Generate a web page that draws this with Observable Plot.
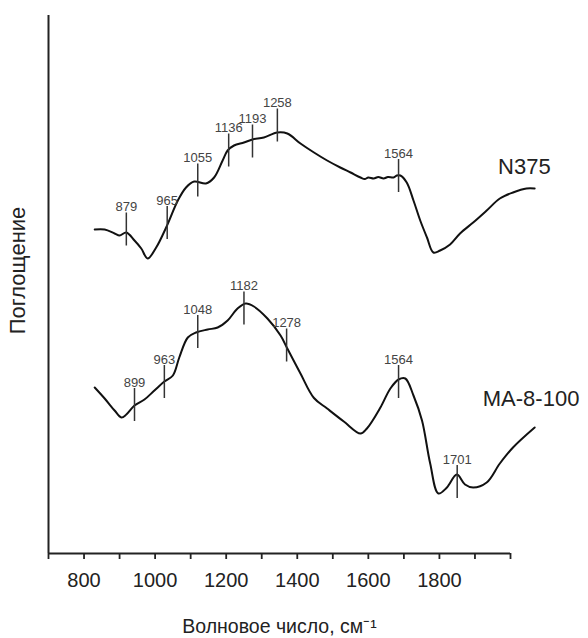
<!DOCTYPE html>
<html><head><meta charset="utf-8">
<script src="https://cdn.jsdelivr.net/npm/d3@7"></script>
<script src="https://cdn.jsdelivr.net/npm/@observablehq/plot@0.6"></script>
<style>body{margin:0;background:#fff}#chart svg{font-family:"Liberation Sans",Arial,sans-serif}</style>
</head><body><div id="chart"></div>
<script>
// Spectrum N375 (x read against the drawn axis, y in arbitrary absorbance units)
const n375X = [830,858,886,900,919,942,961,979,1003,1031,1064,1087,1110,1143,1166,1190,1204,1222,1250,1274,1306,1344,1372,1409,1447,1484,1521,1550,1578,1590,1600,1615,1628,1643,1655,1671,1680,1690,1708,1727,1746,1765,1783,1802,1830,1858,1895,1933,1970,2007,2045,2068];
const n375Y = [3.24,3.24,3.20,3.18,3.21,3.13,3.05,2.95,3.06,3.26,3.53,3.66,3.72,3.70,3.76,3.93,4.03,4.08,4.11,4.14,4.16,4.21,4.20,4.10,4.01,3.93,3.86,3.81,3.76,3.745,3.76,3.75,3.765,3.75,3.765,3.76,3.78,3.78,3.71,3.53,3.33,3.16,3.01,3.03,3.09,3.20,3.31,3.43,3.55,3.61,3.65,3.65];
// Spectrum MA-8-100
const maX = [830,858,886,905,919,942,970,998,1026,1050,1068,1092,1115,1148,1176,1204,1232,1255,1278,1316,1353,1372,1409,1447,1484,1531,1578,1596,1634,1662,1685,1704,1727,1751,1774,1797,1821,1849,1872,1895,1933,1970,2007,2068];
const maY = [1.66,1.55,1.43,1.36,1.39,1.48,1.54,1.63,1.72,1.78,1.96,2.16,2.21,2.24,2.26,2.33,2.45,2.50,2.47,2.35,2.18,2.05,1.80,1.555,1.45,1.32,1.20,1.25,1.46,1.65,1.74,1.75,1.58,1.33,0.90,0.60,0.66,0.79,0.69,0.66,0.71,0.90,1.06,1.26];
// Peak annotations
const n375PeakLabels = ["879","965","1055","1136","1193","1258","1564"];
const n375PeakX = [919,1034,1120,1207,1274,1344,1685];
const n375PeakY = [3.24,3.305,3.73,4.03,4.12,4.28,3.775];
const maPeakLabels = ["899","963","1048","1182","1278","1564","1701"];
const maPeakX = [942,1026,1120,1250,1370,1685,1850];
const maPeakY = [1.485,1.715,2.215,2.45,2.08,1.715,0.715];
// Series names
const seriesNames = ["N375","MA-8-100"];
const seriesNameX = [1965,1922];
const seriesNameY = [3.87,1.55];
// Axis
const tickValues = [700,800,900,1000,1100,1200,1300,1400,1500,1600,1700,1800,1900,2000];
const tickLabels = [800,1000,1200,1400,1600,1800];
const xDomain = [700,2000];
const yDomain = [0,5.38];
const xLabel = "Волновое число, см⁻¹";
const yLabel = "Поглощение";

const n375 = n375X.map((x,i)=>({x, y:n375Y[i]}));
const ma = maX.map((x,i)=>({x, y:maY[i]}));
const peaks = [
  ...n375PeakLabels.map((l,i)=>({label:l, x:n375PeakX[i], y:n375PeakY[i]})),
  ...maPeakLabels.map((l,i)=>({label:l, x:maPeakX[i], y:maPeakY[i]}))
];
const names = seriesNames.map((n,i)=>({name:n, x:seriesNameX[i], y:seriesNameY[i]}));
const half = 0.165;

const chart = Plot.plot({
  width: 588, height: 638,
  marginLeft: 48, marginRight: 78, marginTop: 15, marginBottom: 85,
  x: {domain: xDomain},
  y: {domain: yDomain},
  marks: [
    Plot.axisX({ticks: tickValues, tickSize: 6, tickPadding: 13, tickFormat: d => tickLabels.includes(d) ? String(d) : "", label: null, fontSize: 20, fill: "#222", stroke: "#222", strokeWidth: 1.8}),
    Plot.axisY({ticks: [], label: null}),
    Plot.ruleY([0], {stroke: "#222", strokeWidth: 2}),
    Plot.ruleX([xDomain[0]], {stroke: "#222", strokeWidth: 2}),
    Plot.line(n375, {x: "x", y: "y", stroke: "#111", strokeWidth: 2, curve: "catmull-rom"}),
    Plot.line(ma, {x: "x", y: "y", stroke: "#111", strokeWidth: 2, curve: "catmull-rom"}),
    Plot.ruleX(peaks, {x: "x", y1: d => d.y - half, y2: d => d.y + half, stroke: "#333", strokeWidth: 1.5}),
    Plot.text(peaks, {x: "x", y: d => d.y + half, text: "label", lineAnchor: "bottom", dy: -2, fontSize: 13, fill: "#444"}),
    Plot.text(names, {x: "x", y: "y", text: "name", textAnchor: "start", fontSize: 22, fill: "#222"}),
    Plot.text([xLabel], {frameAnchor: "bottom", dy: 79, fontSize: 19.5, fill: "#222"}),
    Plot.text([yLabel], {frameAnchor: "left", textAnchor: "middle", dx: -31, dy: -14, rotate: -90, fontSize: 22, fill: "#222"})
  ]
});
document.getElementById("chart").append(chart);
</script>
</body></html>
